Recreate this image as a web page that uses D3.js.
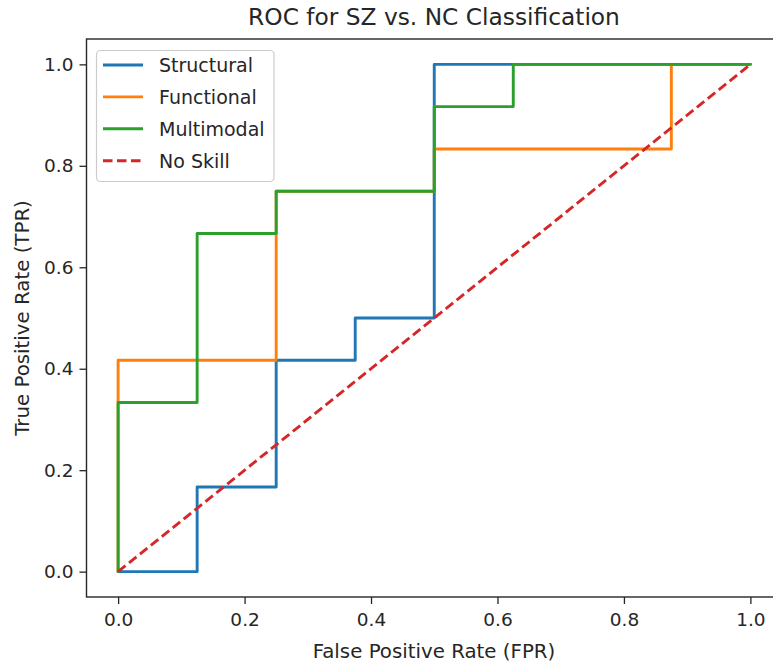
<!DOCTYPE html>
<html>
<head>
<meta charset="utf-8">
<script src="https://cdn.jsdelivr.net/npm/d3@7"></script>
<style>
  body { margin: 0; background: #fff; }
  text { font-family: "DejaVu Sans", sans-serif; fill: #262626; }
</style>
</head>
<body>
<svg id="chart" width="773" height="663"></svg>
<script>
// ---- data ----
const structuralFPR = [0, 0.125, 0.125, 0.25, 0.25, 0.375, 0.375, 0.5, 0.5, 1.0];
const structuralTPR = [0, 0, 0.1667, 0.1667, 0.4167, 0.4167, 0.5, 0.5, 1.0, 1.0];
const functionalFPR = [0, 0, 0.25, 0.25, 0.5, 0.5, 0.875, 0.875, 1.0];
const functionalTPR = [0, 0.4167, 0.4167, 0.75, 0.75, 0.8333, 0.8333, 1.0, 1.0];
const multimodalFPR = [0, 0, 0.125, 0.125, 0.25, 0.25, 0.5, 0.5, 0.625, 0.625, 1.0];
const multimodalTPR = [0, 0.3333, 0.3333, 0.6667, 0.6667, 0.75, 0.75, 0.9167, 0.9167, 1.0, 1.0];
const noSkillFPR = [0, 1];
const noSkillTPR = [0, 1];
const seriesNames = ["Structural", "Functional", "Multimodal", "No Skill"];
const seriesColors = ["#1f77b4", "#ff7f0e", "#2ca02c", "#d62728"];
const tickValues = [0.0, 0.2, 0.4, 0.6, 0.8, 1.0];
const titleText = "ROC for SZ vs. NC Classification";
const xLabelText = "False Positive Rate (FPR)";
const yLabelText = "True Positive Rate (TPR)";

// ---- layout ----
const plot = { left: 86.5, right: 782, top: 39, bottom: 597 };
const svg = d3.select("#chart");

const x = d3.scaleLinear().domain([-0.05, 1.05]).range([plot.left, plot.right]);
const y = d3.scaleLinear().domain([-0.05, 1.05]).range([plot.bottom, plot.top]);

const series = [
  { name: seriesNames[0], color: seriesColors[0], fpr: structuralFPR, tpr: structuralTPR, dash: null },
  { name: seriesNames[1], color: seriesColors[1], fpr: functionalFPR, tpr: functionalTPR, dash: null },
  { name: seriesNames[2], color: seriesColors[2], fpr: multimodalFPR, tpr: multimodalTPR, dash: null },
  { name: seriesNames[3], color: seriesColors[3], fpr: noSkillFPR, tpr: noSkillTPR, dash: "9.5,4.5" }
];

svg.append("defs").append("clipPath").attr("id", "clip")
  .append("rect").attr("x", plot.left).attr("y", plot.top)
  .attr("width", plot.right - plot.left).attr("height", plot.bottom - plot.top);

const line = d3.line().x(d => x(d[0])).y(d => y(d[1]));

const g = svg.append("g").attr("clip-path", "url(#clip)");
series.forEach(s => {
  const pts = s.fpr.map((v, i) => [v, s.tpr[i]]);
  g.append("path").datum(pts)
    .attr("d", line)
    .attr("fill", "none")
    .attr("stroke", s.color)
    .attr("stroke-width", 2.9)
    .attr("stroke-linejoin", "round")
    .attr("stroke-linecap", s.dash ? "butt" : "round")
    .attr("stroke-dasharray", s.dash);
});

// axes
const xAxis = d3.axisBottom(x).tickValues(tickValues).tickFormat(d3.format(".1f")).tickSize(7).tickPadding(6);
const yAxis = d3.axisLeft(y).tickValues(tickValues).tickFormat(d3.format(".1f")).tickSize(7).tickPadding(6);

const gx = svg.append("g").attr("transform", `translate(0,${plot.bottom})`).call(xAxis);
const gy = svg.append("g").attr("transform", `translate(${plot.left},0)`).call(yAxis);
[gx, gy].forEach(ax => {
  ax.select(".domain").remove();
  ax.selectAll(".tick line").attr("stroke", "#262626").attr("stroke-width", 1.3);
  ax.selectAll(".tick text").attr("font-size", 18.5).attr("fill", "#262626")
    .style("font-family", '"DejaVu Sans", sans-serif');
});
gx.selectAll(".tick text").attr("dy", "0.88em");

// frame
svg.append("rect")
  .attr("x", plot.left).attr("y", plot.top)
  .attr("width", plot.right - plot.left).attr("height", plot.bottom - plot.top)
  .attr("fill", "none").attr("stroke", "#262626").attr("stroke-width", 1.4);

// title & labels
svg.append("text").attr("x", 434).attr("y", 25).attr("text-anchor", "middle")
  .attr("font-size", 23.3).text(titleText);
svg.append("text").attr("x", 434).attr("y", 658).attr("text-anchor", "middle")
  .attr("font-size", 19.8).text(xLabelText);
svg.append("text").attr("transform", `translate(29,${(plot.top + plot.bottom) / 2}) rotate(-90)`)
  .attr("text-anchor", "middle").attr("font-size", 19.8).text(yLabelText);

// legend
const leg = svg.append("g");
leg.append("rect").attr("x", 96.5).attr("y", 50.5).attr("width", 177.5).attr("height", 131)
  .attr("rx", 4).attr("fill", "#fff").attr("fill-opacity", 0.8)
  .attr("stroke", "#cccccc").attr("stroke-width", 1.2);
series.forEach((s, i) => {
  const yy = 65 + i * 31.9;
  leg.append("line").attr("x1", 103).attr("x2", 143).attr("y1", yy).attr("y2", yy)
    .attr("stroke", s.color).attr("stroke-width", 2.9).attr("stroke-dasharray", s.dash);
  leg.append("text").attr("x", 159).attr("y", yy).attr("dy", "0.36em")
    .attr("font-size", 19).text(s.name);
});
</script>
</body>
</html>
